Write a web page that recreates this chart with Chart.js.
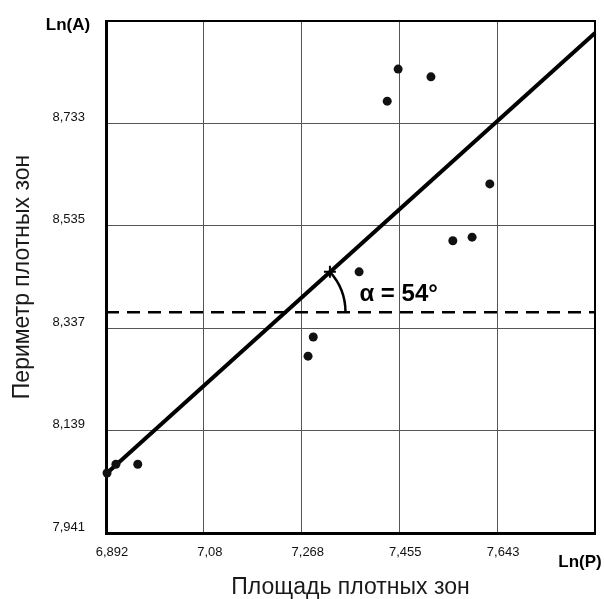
<!DOCTYPE html>
<html>
<head>
<meta charset="utf-8">
<script src="https://cdn.jsdelivr.net/npm/chart.js@4/dist/chart.umd.min.js"></script>
<style>
  body { margin: 0; background: #fff; }
  canvas { display: block; }
</style>
</head>
<body>
<canvas id="chart" width="604" height="599"></canvas>
<script>
// axis ranges and ticks
const xMin = 6.892, xMax = 7.831;
const yMin = 7.941, yMax = 8.931;
const xTicks = [6.892, 7.08, 7.268, 7.455, 7.643];
const xTickLabels = ['6,892', '7,08', '7,268', '7,455', '7,643'];
const yTicks = [7.941, 8.139, 8.337, 8.535, 8.733];
const yTickLabels = ['7,941', '8,139', '8,337', '8,535', '8,733'];

// measured points
const pointsX = [6.894, 6.911, 6.953, 7.280, 7.290, 7.378, 7.432, 7.453, 7.516, 7.558, 7.595, 7.629];
const pointsY = [8.057, 8.074, 8.074, 8.283, 8.320, 8.446, 8.776, 8.838, 8.823, 8.506, 8.513, 8.616];

// trend line, horizontal level and the mark on the trend
const trendX = [6.892, 7.831];
const trendY = [8.055, 8.908];
const levelY = 8.368;
const markX = 7.322, markY = 8.446;
const angleText = 'α = 54°';

const xTitle = 'Площадь плотных зон';
const yTitle = 'Периметр плотных зон';
const xName = 'Ln(P)';
const yName = 'Ln(A)';

const fontFamily = "Arial, 'Liberation Sans', sans-serif";

const angleMarks = {
    id: 'angleMarks',
    afterDatasetsDraw(chart) {
        const ctx = chart.ctx;
        const xs = chart.scales.x, ys = chart.scales.y;
        const area = chart.chartArea;

        // top and right frame
        ctx.save();
        ctx.strokeStyle = '#000';
        ctx.lineWidth = 2;
        ctx.beginPath();
        ctx.moveTo(area.left, area.top);
        ctx.lineTo(area.right, area.top);
        ctx.lineTo(area.right, area.bottom);
        ctx.stroke();

        // vertex where trend meets the level line
        const slope = (trendY[1] - trendY[0]) / (trendX[1] - trendX[0]);
        const vx = trendX[0] + (levelY - trendY[0]) / slope;
        const px = xs.getPixelForValue(vx), py = ys.getPixelForValue(levelY);
        const mx = xs.getPixelForValue(markX), my = ys.getPixelForValue(markY);
        const r = Math.hypot(mx - px, my - py);
        const a = Math.atan2(my - py, mx - px);

        ctx.lineWidth = 2.5;
        ctx.beginPath();
        ctx.arc(px, py, r, a, 0);
        ctx.stroke();

        ctx.fillStyle = '#000';
        ctx.font = 'bold 24px ' + fontFamily;
        ctx.textBaseline = 'middle';
        ctx.textAlign = 'left';
        ctx.fillText(angleText, px + 74, py - 18);

        ctx.font = 'bold 17px ' + fontFamily;
        ctx.textAlign = 'center';
        ctx.fillText(yName, area.left - 38, area.top + 4);
        ctx.fillText(xName, area.right - 15, area.bottom + 29);
        ctx.restore();
    }
};

new Chart(document.getElementById('chart'), {
    type: 'scatter',
    data: {
        datasets: [
            {
                label: 'points',
                data: pointsX.map((x, i) => ({ x: x, y: pointsY[i] })),
                pointRadius: 4.5,
                pointBackgroundColor: '#111',
                pointBorderWidth: 0,
                clip: false
            },
            {
                label: 'trend',
                type: 'line',
                data: trendX.map((x, i) => ({ x: x, y: trendY[i] })),
                borderColor: '#000',
                borderWidth: 4,
                pointRadius: 0,
                clip: false
            },
            {
                label: 'level',
                type: 'line',
                data: [{ x: xMin, y: levelY }, { x: xMax, y: levelY }],
                borderColor: '#000',
                borderWidth: 2.5,
                borderDash: [13, 8],
                pointRadius: 0
            },
            {
                label: 'mark',
                data: [{ x: markX, y: markY }],
                pointStyle: 'cross',
                pointRadius: 6,
                pointBorderColor: '#000',
                pointBorderWidth: 2
            }
        ]
    },
    options: {
        responsive: false,
        animation: false,
        layout: { padding: { left: 0, top: 21, right: 9, bottom: 0 } },
        plugins: {
            legend: { display: false },
            tooltip: { enabled: false }
        },
        scales: {
            x: {
                type: 'linear',
                min: xMin,
                max: xMax,
                afterBuildTicks: (scale) => { scale.ticks = xTicks.map(v => ({ value: v })); },
                afterFit: (scale) => {
                    scale.height = 66;
                    scale.paddingLeft = 0;
                    scale.paddingRight = 0;
                },
                grid: { color: '#555', lineWidth: 1, drawTicks: false },
                border: { color: '#000', width: 3 },
                ticks: {
                    color: '#111',
                    font: { family: fontFamily, size: 13 },
                    padding: 12,
                    labelOffset: 6,
                    maxRotation: 0,
                    autoSkip: false,
                    callback: (v, i) => xTickLabels[i]
                },
                title: {
                    display: true,
                    text: xTitle,
                    color: '#1a1a1a',
                    font: { family: fontFamily, size: 23, lineHeight: 1 },
                    padding: { top: 0, bottom: 0 }
                }
            },
            y: {
                type: 'linear',
                min: yMin,
                max: yMax,
                afterBuildTicks: (scale) => { scale.ticks = yTicks.map(v => ({ value: v })); },
                afterFit: (scale) => {
                    scale.width = 106;
                    scale.paddingTop = 0;
                    scale.paddingBottom = 0;
                },
                grid: { color: '#555', lineWidth: 1, drawTicks: false },
                border: { color: '#000', width: 3 },
                ticks: {
                    color: '#111',
                    font: { family: fontFamily, size: 13 },
                    padding: 21,
                    labelOffset: -6,
                    autoSkip: false,
                    callback: (v, i) => yTickLabels[i]
                },
                title: {
                    display: true,
                    text: yTitle,
                    color: '#1a1a1a',
                    font: { family: fontFamily, size: 23, lineHeight: 1 },
                    padding: { top: 11, bottom: 0 }
                }
            }
        }
    },
    plugins: [angleMarks]
});
</script>
</body>
</html>
